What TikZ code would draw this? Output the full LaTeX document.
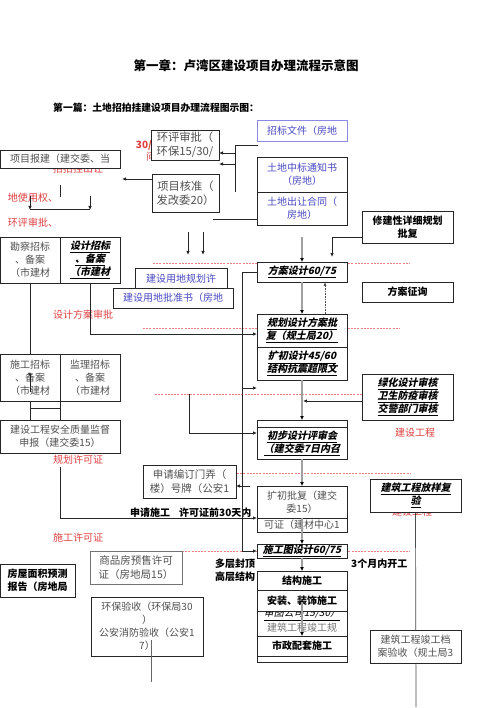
\documentclass[tikz,border=0pt]{standalone}
\usepackage{fontspec}
\setmainfont{Noto Sans CJK SC}
\newfontfamily\slfam{Noto Sans CJK SC}[FakeSlant=0.22]
\usetikzlibrary{arrows.meta}
\definecolor{tgray}{HTML}{505050}
\definecolor{bblue}{HTML}{4A4AC4}
\definecolor{bbord}{HTML}{8A8AE6}
\definecolor{rtext}{HTML}{E04040}
\definecolor{rdash}{HTML}{EE8080}
\definecolor{gline}{HTML}{A0A0A0}
\newcommand\uln[1]{\underline{#1}}
\tikzset{
 box/.style={draw=black!85, line width=0.9pt, fill=white, inner sep=0pt, outer sep=0pt, align=center, font=\fontsize{10}{13}\selectfont, text=tgray},
 bbox/.style={box, text=black, font=\fontsize{10}{13}\selectfont\bfseries},
 ibox/.style={box, text=black, font=\fontsize{10}{13}\selectfont\slfam\bfseries},
 bluebox/.style={box, text=bblue},
 redtxt/.style={text=rtext, font=\fontsize{10}{12}\selectfont, inner sep=0pt},
 rdl/.style={draw=rdash, line width=0.7pt, dash pattern=on 2pt off 1.2pt},
 ln/.style={draw=black!85, line width=0.9pt},
 arr/.style={ln, -{Latex[length=4pt,width=3.5pt]}},
 garr/.style={draw=gline, line width=2pt, -{Latex[length=4pt,width=4pt,color=black]}},
 note/.style={font=\fontsize{10}{12}\selectfont\bfseries, inner sep=0pt},
}
\begin{document}
\begin{tikzpicture}[x=1pt,y=-1pt]
\useasboundingbox (0,0) rectangle (500,708);
\fill[white] (0,0) rectangle (500,708);

% titles
\node[font=\fontsize{12.5}{14}\selectfont\bfseries, inner sep=0pt] (title) at (246,66) {第一章：卢湾区建设项目办理流程示意图};
\node[font=\fontsize{9.8}{12}\selectfont\bfseries, anchor=west, inner sep=0pt] (sub) at (53,108) {第一篇：土地招拍挂建设项目办理流程图示图：};

% red dashed lines
\draw[rdl] (153,263) -- (410,263);
\draw[rdl] (143,328) -- (400,328);
\draw[rdl] (155,394) -- (362,394);
\draw[rdl] (237,473) -- (410,473);
\draw[rdl] (182,551) -- (410,551);

% red texts
\node[redtxt, font=\fontsize{10}{12}\selectfont\bfseries] (r30) at (144,145) {30/};
\node[redtxt] (rwen) at (151,157) {问};
\node[redtxt] (rzp) at (78,169) {招拍挂出让};
\node[redtxt] (rdsy) at (33,198) {地使用权、};
\node[redtxt] (rhp) at (33,223) {环评审批、};
\node[redtxt] (rsj) at (83,315) {设计方案审批};
\node[redtxt] (rgh) at (78,460) {规划许可证};
\node[redtxt] (rsg) at (78,538) {施工许可证};
\node[redtxt] (rjs) at (415,433) {建设工程};
\node[redtxt] (rjs2) at (412,512) {建设工程};

% bold notes
\node[note, anchor=west] (sq) at (130,513) {申请施工\hspace{0.9em}许可证前30天内};
\node[note, anchor=west] (sgy) at (351,564) {3个月内开工};
\node[note, anchor=west] (dc) at (215,564) {多层封顶};
\node[note, anchor=west] (gc) at (215,577) {高层结构};

% long line under boxes
\coordinate (y1) at (416,707);
\draw[ln, line width=0.7pt, draw=black!70] (415.5,512) -- (y1);

% boxes
\node[box, minimum width=68, minimum height=30, font=\fontsize{11.3}{14}\selectfont] (hp) at (185,145) {环评审批（\\环保15/30/};
\node[bluebox, draw=bbord, minimum width=90, minimum height=21] (zb) at (302,130.5) {招标文件（房地};
\node[box, minimum width=120, minimum height=18] (bj) at (60,159) {项目报建（建交委、当};
\node[box, minimum width=67, minimum height=38, font=\fontsize{11.3}{14}\selectfont] (hz) at (185.5,193) {项目核准（\\发改委20）};
\node[bluebox, minimum width=90, minimum height=35] (td1) at (302,174.5) {土地中标通知书\\（房地）};
\node[bluebox, minimum width=90, minimum height=33] (td2) at (302,208.5) {土地出让合同（\\房地）};
\node[bbox, minimum width=91, minimum height=32] (xj) at (407.5,227) {修建性详细规划\\批复};
\node[box, minimum width=60, minimum height=46] (kc) at (30,260) {勘察招标\\、备案\\（市建材};
\node[ibox, minimum width=60, minimum height=46] (sj) at (90,260) {\uln{设计招标}\\\uln{、备案}\\\uln{（市建材}};
\node[bluebox, minimum width=92, minimum height=22] (yd1) at (181,279) {建设用地规划许};
\node[bluebox, minimum width=120, minimum height=20] (yd2) at (173,298) {建设用地批准书（房地};
\node[ibox, minimum width=90, minimum height=20] (fa) at (302,272) {\uln{方案设计60/75}};
\node[bbox, minimum width=91, minimum height=20] (fz) at (407.5,292) {方案征询};
\node[ibox, minimum width=90, minimum height=33] (gh1) at (302,330.5) {\uln{规划设计方案批}\\\uln{复（规土局20）}};
\node[ibox, minimum width=90, minimum height=33] (kc2) at (302,363.5) {\uln{扩初设计45/60}\\\uln{结构抗震超限文}};
\node[box, minimum width=60, minimum height=47] (sg) at (30,377.5) {施工招标\\、备案\\（市建材};
\node[box, minimum width=60, minimum height=47] (jl) at (90,377.5) {监理招标\\、备案\\（市建材};
\node[ibox, minimum width=91, minimum height=46] (lh) at (407.5,397) {\uln{绿化设计审核}\\\uln{卫生防疫审核}\\\uln{交警部门审核}};
\node[box, minimum width=120, minimum height=33] (aq) at (60,436.5) {建设工程安全质量监督\\申报（建交委15）};
\node[box, minimum width=90, minimum height=39] (cb) at (302,439.5) {};
\draw[ln] (257,427) -- (347,427);
\node[font=\fontsize{10}{13}\selectfont\slfam\bfseries, align=center, inner sep=0pt] (cbt) at (302,443.5) {\uln{初步设计评审会}\\\uln{（建交委7日内召}};
\node[box, minimum width=93, minimum height=33, font=\fontsize{10.5}{14}\selectfont] (mp) at (189.5,481.5) {申请编订门弄（\\楼）号牌（公安1};
\node[ibox, minimum width=91, minimum height=33] (ys) at (415.5,495.5) {\uln{建筑工程放样复}\\\uln{验}};
\node[box, minimum width=90, minimum height=14] (kp2) at (302,525) {可证（建材中心1};
\node[box, minimum width=90, minimum height=32] (kp) at (302,502) {扩初批复（建交\\委15）};
\node[ibox, minimum width=90, minimum height=14] (sg2) at (302,551) {\uln{施工图设计60/75}};
\node[box, draw=black!55, minimum width=92, minimum height=33, font=\fontsize{10.5}{14}\selectfont] (sp) at (136,567.5) {商品房预售许可\\证（房地局15）};
\node[bbox, minimum width=75, minimum height=33] (fw) at (37.5,580.5) {房屋面积预测\\报告（房地局};
\node[bbox, minimum width=90, minimum height=19] (js) at (302,580.5) {结构施工};
\node[box, minimum width=90, minimum height=25] (st) at (302,623.5) {};
\node[font=\fontsize{10}{12}\selectfont\slfam, inner sep=0pt] (st1) at (302,614.5) {\uln{审图公司15/30）}};
\node[font=\fontsize{10}{12}\selectfont, text=tgray!80, inner sep=0pt] (st2) at (302,628) {建筑工程竣工规};
\node[bbox, minimum width=90, minimum height=21] (az) at (302,600.5) {安装、装饰施工};
\node[bbox, minimum width=90, minimum height=20] (sz) at (302,646) {市政配套施工};
\node[box, minimum width=90, minimum height=6] (sb) at (302,659) {};
\node[box, minimum width=91, minimum height=33] (jg) at (415.5,646.5) {建筑工程竣工档\\案验收（规土局3};
\node[box, minimum width=112, minimum height=59] (hb) at (147,626.5) {环保验收（环保局30\\）\\公安消防验收（公安1\\7）};

% connectors
\coordinate (a1) at (122,179);
\draw[arr] (hz.west |- a1) -- (a1);
\draw[ln] (258,145) -- (235,145) -- (235,192);
\draw[arr] (235,153) -- (hp.east |- 0,153);
\draw[arr] (235,164) -- (hp.east |- 0,164);
\draw[ln] (213,219) -- (td2.west |- 0,219);
\draw[ln] (60,185) -- (60,197);
\draw[arr] (30,196) -- (30,210);
\draw[arr] (90,196) -- (90,210);
\draw[ln] (30,209) -- (90,209);
\draw[arr] (188,232) -- (188,255);
\draw[arr] (203,232) -- (203,255);
\coordinate (x1) at (332,257);
\draw[arr] (xj.west |- 0,237) -| (x1);
\coordinate (g1) at (302,237);
\draw[garr] (g1) -- (fa.north);
\draw[garr] (fa.south) -- (gh1.north);
\draw[draw=black!70, densely dotted, line width=0.6pt, -{Latex[length=4pt,width=3pt]}] (gh1.north -| 325,0) -- (fa.south -| 325,0);
\draw[ln] (kc.south) -- (sg.north);
\coordinate (k1) at (90,334);
\draw[arr] (sj.south) -- (k1) -- (k1 -| gh1.west);
\draw[ln] (sg.south) -- (sg.south |- aq.north);
\draw[ln] (sg.south east) -- (aq.north);
\draw[ln] (30,408) -- (60,408);
\draw[ln, line width=0.6pt, -{Latex[length=3pt,width=3pt]}] (30,392) -- (30,372);
\coordinate (t2) at (242,551);
\draw[ln] (fa.west) -| (t2);
\coordinate (a387) at (242,388);
\draw[arr] (a387) -- (257,388);
\coordinate (a433) at (242,433);
\draw[arr] (a433) -- (a433 -| cb.west);
\coordinate (c189) at (189,394);
\draw[ln] (c189) |- (a433);
\draw[arr] (t2) -- (sg2.west);
\coordinate (l1) at (303,401);
\draw[arr] (lh.west |- l1) -- (l1);
\draw[garr] (kc2.south) -- (cb.north);
\draw[garr] (cb.south) -- (kp.north);
\draw[garr] (kp.south) -- (sg2.north);
\draw[garr] (sg2.south) -- (js.north);
\draw[garr] (302,602) -- (sz.north);
\coordinate (m1) at (250,486);
\draw[arr] (m1) -- (m1 -| mp.east);
\coordinate (k2a) at (60,467);
\draw[arr] (k2a) |- (kp2.north west);
\coordinate (h1) at (151,682);
\draw[draw=black!60, line width=0.7pt] (h1 |- 0,640) -- (h1);
\end{tikzpicture}
\end{document}
